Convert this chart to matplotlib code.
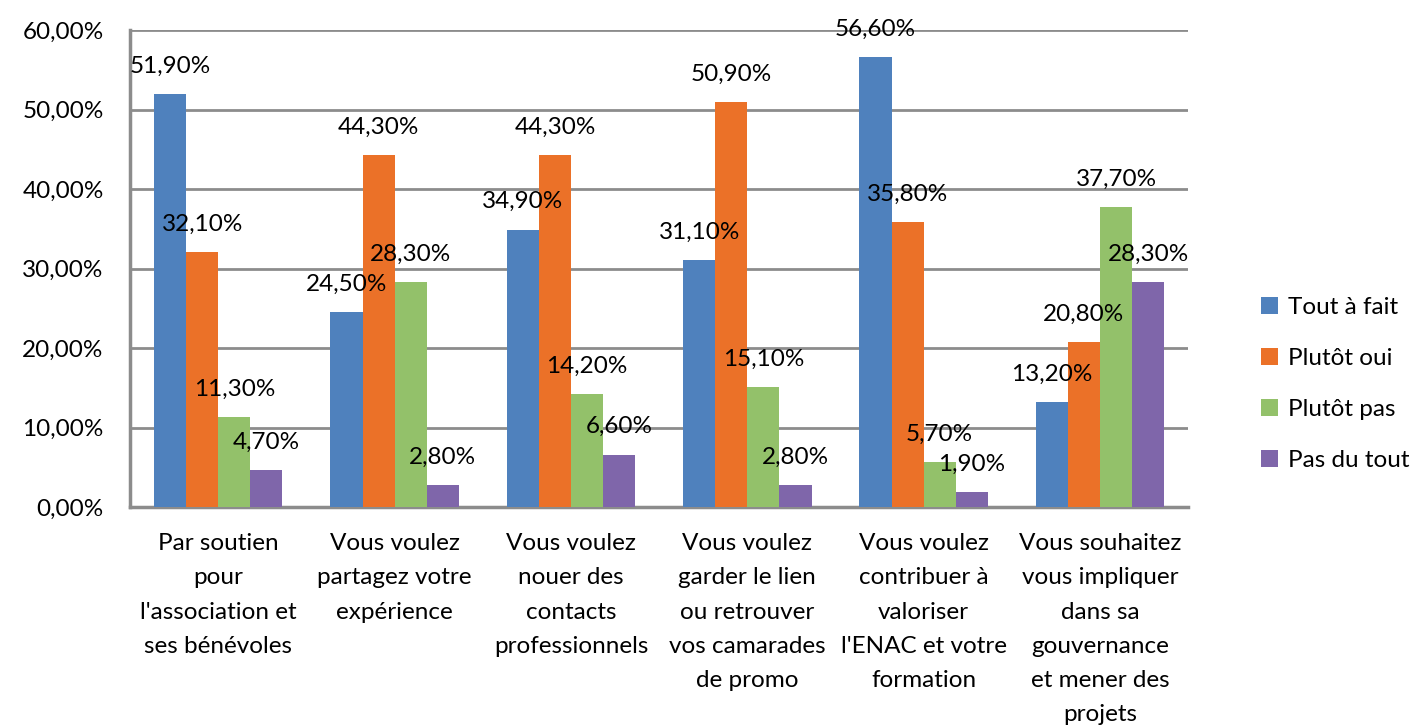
import matplotlib
matplotlib.use("Agg")
import matplotlib.pyplot as plt
import numpy as np

plt.rcParams['font.family'] = ['Lato', 'DejaVu Sans']

categories = [
    "Par soutien\npour\nl'association et\nses bénévoles",
    "Vous voulez\npartagez votre\nexpérience",
    "Vous voulez\nnouer des\ncontacts\nprofessionnels",
    "Vous voulez\ngarder le lien\nou retrouver\nvos camarades\nde promo",
    "Vous voulez\ncontribuer à\nvaloriser\nl'ENAC et votre\nformation",
    "Vous souhaitez\nvous impliquer\ndans sa\ngouvernance\net mener des\nprojets",
]
series_names = ["Tout à fait", "Plutôt oui", "Plutôt pas", "Pas du tout"]
tout_a_fait = [51.9, 24.5, 34.9, 31.1, 56.6, 13.2]
plutot_oui = [32.1, 44.3, 44.3, 50.9, 35.8, 20.8]
plutot_pas = [11.3, 28.3, 14.2, 15.1, 5.7, 37.7]
pas_du_tout = [4.7, 2.8, 6.6, 2.8, 1.9, 28.3]
yticks = [0, 10, 20, 30, 40, 50, 60]

series = [tout_a_fait, plutot_oui, plutot_pas, pas_du_tout]
colors = ["#4F81BD", "#EB7128", "#93C16A", "#7F66AA"]

fig = plt.figure(figsize=(14.23, 7.27), dpi=100)
ax = fig.add_axes([0.0914, 0.3026, 0.7436, 0.6561])

x = np.arange(len(categories))
w = 0.182
fs = 17.5
for i, (vals, name, c) in enumerate(zip(series, series_names, colors)):
    pos = x + (i - 1.5) * w
    ax.bar(pos, vals, width=w, color=c, label=name, zorder=3)
    for xp, v in zip(pos, vals):
        ax.annotate(f"{v:.2f}%".replace(".", ","), (xp, v), xytext=(0, 20),
                    textcoords="offset points", ha="center", va="center",
                    fontsize=fs, color="black", zorder=4)

ax.set_xlim(-0.5, len(categories) - 0.5)
ax.set_ylim(0, 60)
ax.set_yticks(yticks)
ax.set_yticklabels([f"{t:.2f}%".replace(".", ",") for t in yticks], fontsize=fs)
ax.set_xticks(x)
ax.set_xticklabels(categories, fontsize=fs, linespacing=1.77, va="top")
ax.tick_params(axis="both", length=0)
ax.tick_params(axis="y", pad=19)
ax.tick_params(axis="x", pad=19)
ax.yaxis.grid(True, color="#8C8C8C", linewidth=2, zorder=0)
for s in ["top", "right"]:
    ax.spines[s].set_visible(False)
for s in ["left", "bottom"]:
    ax.spines[s].set_color("#8C8C8C")
    ax.spines[s].set_linewidth(2.5)

fig.legend(loc="center left", bbox_to_anchor=(0.871, 0.472), frameon=False,
           fontsize=fs, handlelength=0.7, handleheight=0.7, handletextpad=0.4,
           labelspacing=1.24)

fig.savefig("out.png", dpi=100)
